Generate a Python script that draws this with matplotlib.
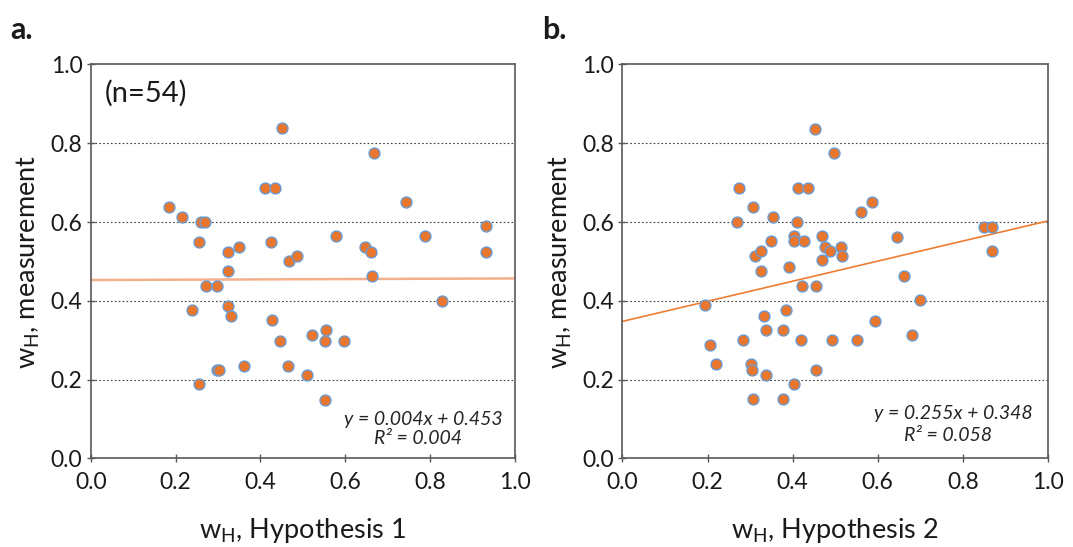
import matplotlib
matplotlib.use("Agg")
import matplotlib.pyplot as plt
import numpy as np

plt.rcParams['font.family'] = ['Lato', 'DejaVu Sans']
plt.rcParams['mathtext.fontset'] = 'custom'
plt.rcParams['mathtext.rm'] = 'Lato'

# Panel a: predicted w_H from Hypothesis 1 vs measured w_H
h1_x = [0.184, 0.216, 0.260, 0.269, 0.255, 0.323, 0.349, 0.323, 0.271, 0.297,
        0.238, 0.323, 0.331, 0.297, 0.303, 0.255, 0.362, 0.450, 0.411, 0.434,
        0.425, 0.427, 0.447, 0.464, 0.467, 0.485, 0.509, 0.521, 0.555, 0.551,
        0.552, 0.597, 0.577, 0.668, 0.646, 0.660, 0.663, 0.743, 0.788, 0.827,
        0.931, 0.931]
h1_y = [0.638, 0.614, 0.601, 0.601, 0.550, 0.525, 0.537, 0.476, 0.438, 0.438,
        0.376, 0.387, 0.362, 0.224, 0.224, 0.188, 0.236, 0.840, 0.687, 0.687,
        0.550, 0.351, 0.298, 0.236, 0.500, 0.513, 0.213, 0.314, 0.326, 0.298,
        0.148, 0.298, 0.565, 0.776, 0.537, 0.525, 0.463, 0.650, 0.565, 0.399,
        0.589, 0.525]

# Panel b: predicted w_H from Hypothesis 2 vs measured w_H
h2_x = [0.452, 0.497, 0.274, 0.412, 0.435, 0.307, 0.587, 0.561, 0.353, 0.270,
        0.410, 0.403, 0.403, 0.427, 0.468, 0.475, 0.488, 0.513, 0.516, 0.468,
        0.646, 0.350, 0.312, 0.325, 0.325, 0.392, 0.423, 0.454, 0.662, 0.700,
        0.849, 0.869, 0.869, 0.193, 0.384, 0.333, 0.338, 0.378, 0.594, 0.284,
        0.420, 0.493, 0.552, 0.680, 0.205, 0.220, 0.302, 0.305, 0.338, 0.454,
        0.403, 0.307, 0.378]
h2_y = [0.837, 0.776, 0.687, 0.687, 0.687, 0.638, 0.651, 0.626, 0.612, 0.599,
        0.599, 0.564, 0.551, 0.551, 0.564, 0.538, 0.527, 0.538, 0.515, 0.503,
        0.563, 0.551, 0.514, 0.527, 0.475, 0.486, 0.438, 0.438, 0.462, 0.402,
        0.587, 0.587, 0.527, 0.390, 0.377, 0.362, 0.326, 0.326, 0.349, 0.300,
        0.300, 0.300, 0.300, 0.313, 0.289, 0.240, 0.240, 0.224, 0.213, 0.224,
        0.188, 0.151, 0.151]

# Linear fits (slope, intercept, R^2)
fit_a = (0.004, 0.453, 0.004)
fit_b = (0.255, 0.348, 0.058)

ticks = [0.0, 0.2, 0.4, 0.6, 0.8, 1.0]
tick_labels = ["0.0", "0.2", "0.4", "0.6", "0.8", "1.0"]

spine_col = "#595959"
dot_face = "#E8762D"
dot_edge = "#6C9BD2"

fig = plt.figure(figsize=(10.73, 5.47), dpi=100)
ax_a = fig.add_axes([0.0846, 0.1618, 0.3954, 0.7203])
ax_b = fig.add_axes([0.5801, 0.1618, 0.3966, 0.7203])


def style(ax, xlabel):
    ax.set_xlim(0, 1)
    ax.set_ylim(0, 1)
    ax.set_xticks(ticks)
    ax.set_yticks(ticks)
    ax.set_xticklabels(tick_labels)
    ax.set_yticklabels(tick_labels)
    for s in ax.spines.values():
        s.set_color(spine_col)
        s.set_linewidth(1.2)
    ax.tick_params(direction="inout", length=6, width=1.0, color=spine_col,
                   labelsize=16.5, labelcolor="#1a1a1a", pad=3)
    ax.tick_params(axis="x", pad=7)
    for g in [0.2, 0.4, 0.6, 0.8]:
        ax.axhline(g, color="#404040", linestyle=(0, (1.5, 2)), linewidth=0.8,
                   zorder=1)
    ax.set_ylabel(r"w$_\mathrm{H}$, measurement", fontsize=19.5, labelpad=6,
                  color="#1a1a1a")
    ax.set_xlabel(xlabel, fontsize=19.5, labelpad=16, color="#1a1a1a")


def scatter(ax, xs, ys):
    ax.scatter(xs, ys, s=62, c=dot_face, edgecolors=dot_edge, linewidths=1.0,
               zorder=3)


def trend(ax, fit, color, lw):
    xx = np.array([0.0, 1.0])
    ax.plot(xx, fit[0] * xx + fit[1], color=color, linewidth=lw, zorder=2)


def equation(ax, fit, pos1, pos2):
    ax.text(pos1[0], pos1[1], f"y = {fit[0]:.3f}x + {fit[1]:.3f}",
            fontsize=14, style="italic", ha="center", va="center",
            color="#262626")
    ax.text(pos2[0], pos2[1], f"R² = {fit[2]:.3f}",
            fontsize=14, style="italic", ha="center", va="center",
            color="#262626")


style(ax_a, r"w$_\mathrm{H}$, Hypothesis 1")
trend(ax_a, fit_a, "#F4B08A", 1.8)
scatter(ax_a, h1_x, h1_y)
equation(ax_a, fit_a, (0.783, 0.100), (0.771, 0.050))
ax_a.text(0.033, 0.928, "(n=54)", fontsize=21, ha="left", va="center",
          color="#1a1a1a")

style(ax_b, r"w$_\mathrm{H}$, Hypothesis 2")
trend(ax_b, fit_b, "#ED7D31", 1.2)
scatter(ax_b, h2_x, h2_y)
equation(ax_b, fit_b, (0.778, 0.114), (0.766, 0.058))

fig.text(0.010, 0.945, "a.", fontsize=22, fontweight="bold", ha="left",
         va="center", color="#1a1a1a")
fig.text(0.505, 0.945, "b.", fontsize=22, fontweight="bold", ha="left",
         va="center", color="#1a1a1a")

fig.savefig("out.png", dpi=100)
